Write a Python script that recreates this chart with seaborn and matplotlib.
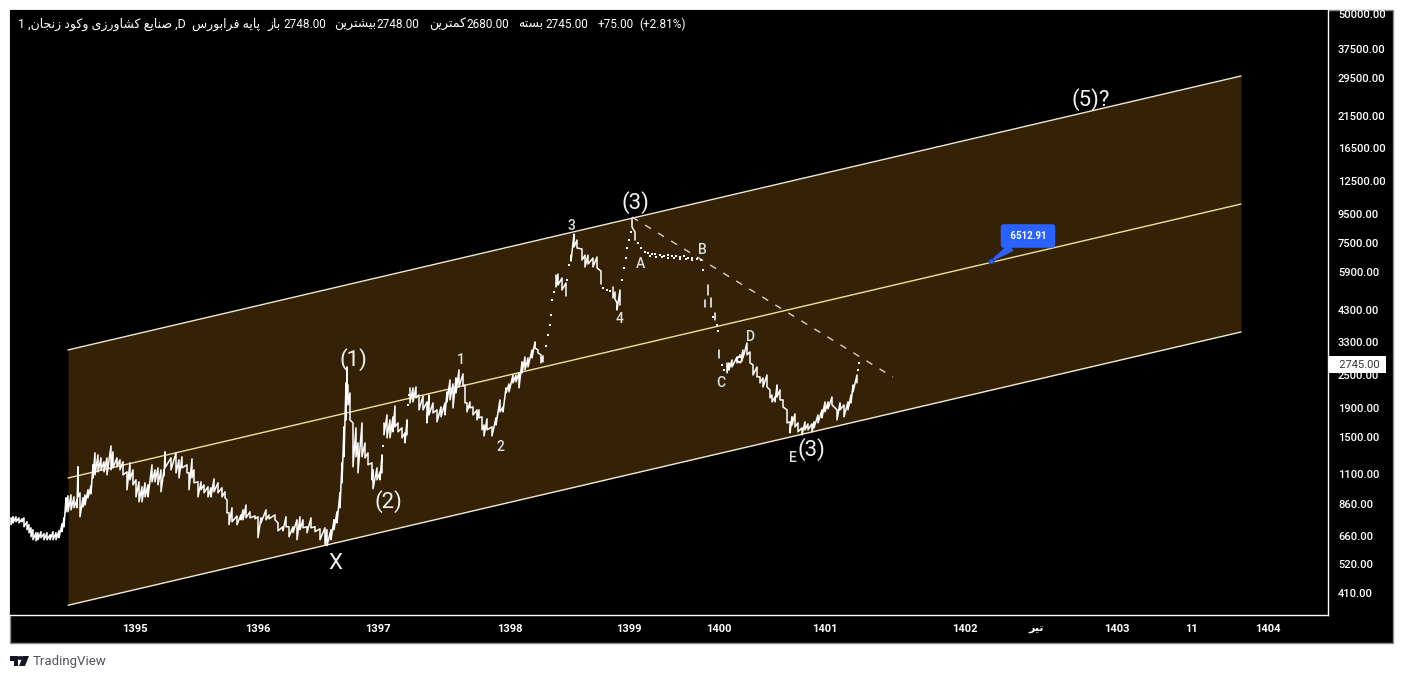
import pandas as pd
import matplotlib
matplotlib.use('Agg')
import matplotlib.pyplot as plt
from matplotlib.patches import Rectangle, Circle, Polygon
from matplotlib.transforms import ScaledTranslation
import seaborn as sns

# price data, x is the bar position on the time scale
bar_x = [11, 13, 16, 19, 22, 24, 27, 29, 31, 33, 36, 38, 41, 44, 47, 50, 53, 56, 59, 62, 64, 66, 68, 71, 74, 77, 78, 80, 83, 85,
         88, 91, 93, 95, 98, 101, 104, 107, 111, 113, 117, 120, 123, 127, 130, 133, 136, 139, 142, 145, 148, 152, 155, 158, 161, 164, 165, 171, 176, 179,
         182, 187, 189, 192, 194, 198, 201, 204, 208, 211, 214, 218, 222, 225, 227, 229, 232, 237, 241, 243, 246, 250, 255, 258, 261, 266, 269, 275, 278, 283,
         286, 289, 293, 297, 300, 303, 307, 311, 315, 320, 325, 327, 331, 334, 337, 340, 342, 344, 346, 347, 348, 350, 353, 356, 358, 362, 365, 368, 372, 373,
         377, 380, 382, 384, 387, 390, 393, 395, 398, 402, 405, 407, 410, 413, 416, 419, 423, 427, 429, 433, 437, 441, 445, 447, 450, 453, 456, 459, 463, 465,
         467, 470, 473, 477, 479, 482, 484, 487, 492, 496, 500, 503, 506, 509, 513, 516, 519, 522, 525, 528, 532, 535, 538, 541, 543, 556, 558, 562, 566, 571,
         574, 577, 582, 585, 588, 593, 597, 601, 613, 615, 617, 620, 632, 635, 705, 708, 711, 715, 719, 727, 729, 732, 737, 740, 743, 747, 750, 753, 757, 760,
         763, 767, 770, 772, 775, 777, 780, 783, 787, 790, 792, 795, 798, 802, 805, 808, 812, 814, 818, 822, 825, 828, 832, 837, 840, 844, 848, 851, 853, 857]
bar_high = [758, 765, 765, 758, 752, 758, 734, 716, 698, 687, 670, 670, 676, 665, 670, 659, 676, 670, 681, 721, 758, 895, 910, 917, 902, 880, 1158, 933, 895, 917,
            957, 989, 1177, 1300, 1278, 1247, 1207, 1247, 1377, 1311, 1247, 1227, 1207, 1110, 1197, 1129, 1039, 1022, 981, 1014, 997, 1177, 1129, 1148, 1129, 1129, 1311, 1247, 1300, 1227,
            1258, 1177, 1101, 1237, 1129, 1022, 1022, 997, 981, 973, 1047, 1014, 973, 941, 880, 790, 824, 770, 777, 810, 844, 797, 770, 765, 758, 810, 777, 777, 727, 704,
            765, 704, 704, 746, 765, 746, 704, 758, 704, 692, 698, 687, 687, 746, 797, 933, 1197, 1613, 2322, 2652, 2283, 2137, 1667, 1600, 1412, 1667, 1412, 1300, 1197, 1129,
            1148, 1110, 1278, 1667, 1781, 1709, 1753, 1918, 1667, 1600, 1534, 1709, 2228, 2228, 2246, 2100, 2083, 1984, 2100, 1967, 1857, 1903, 1967, 2155, 2381, 2303, 2421, 2587, 2502, 2283,
            1967, 1984, 1903, 1857, 1857, 1753, 1639, 1723, 1613, 1738, 2017, 1903, 2228, 2303, 2480, 2480, 2524, 2764, 2880, 2858, 3053, 3262, 3053, 2932, 2907, 5685, 5733, 5546, 5321, 6706,
            7984, 7600, 7053, 6706, 6706, 6546, 6601, 5877, 5150, 4938, 4507, 5021, 9047, 8119, 4621, 5231, 4700, 4149, 3053, 2741, 2741, 2810, 2880, 2932, 3053, 3235, 3003, 2698, 2652, 2442,
            2421, 2480, 2191, 2100, 2067, 2283, 2191, 2017, 1857, 1681, 1753, 1796, 1667, 1600, 1681, 1653, 1653, 1681, 1781, 1857, 1984, 1984, 2067, 1857, 1967, 1935, 1984, 2100, 2283, 2480]
bar_low = [716, 727, 734, 727, 734, 704, 687, 670, 648, 632, 627, 632, 643, 632, 632, 632, 632, 632, 643, 676, 704, 797, 797, 810, 824, 824, 902, 765, 830, 844,
           895, 925, 1056, 1083, 1110, 1129, 1110, 1083, 1129, 1148, 1158, 1129, 1083, 957, 1039, 997, 902, 866, 866, 902, 902, 1022, 1022, 997, 941, 1074, 1148, 1129, 1101, 1056,
           1148, 1101, 957, 1056, 1014, 902, 957, 933, 902, 902, 941, 933, 902, 895, 790, 716, 734, 716, 746, 746, 758, 758, 752, 643, 727, 746, 752, 746, 681, 681,
           704, 648, 670, 632, 687, 698, 670, 698, 676, 632, 607, 602, 632, 687, 727, 824, 1014, 1258, 1709, 2283, 1935, 1709, 1158, 1258, 1101, 1258, 1247, 1177, 1039, 965,
           1039, 1039, 1101, 1509, 1472, 1472, 1548, 1613, 1548, 1472, 1412, 1509, 1967, 1984, 2051, 1857, 1857, 1667, 1781, 1811, 1681, 1753, 1781, 1984, 2017, 1887, 2137, 2246, 2264, 1967,
           1826, 1887, 1781, 1709, 1738, 1573, 1496, 1573, 1496, 1639, 1826, 1826, 2137, 2155, 2322, 2342, 2228, 2524, 2587, 2652, 2858, 3103, 2978, 2741, 2764, 5150, 5231, 5021, 4778, 6386,
           7174, 7115, 6439, 6078, 6228, 6078, 6028, 5275, 4700, 4660, 4254, 4432, 8468, 7600, 4355, 4820, 4355, 3915, 2858, 2524, 2587, 2652, 2741, 2741, 2858, 2932, 2741, 2480, 2442, 2322,
           2246, 2246, 2051, 1984, 1984, 2067, 2017, 1903, 1667, 1534, 1639, 1613, 1548, 1509, 1573, 1573, 1548, 1600, 1667, 1738, 1826, 1873, 1935, 1709, 1857, 1753, 1857, 1967, 2155, 2322]
# the chart has holes here (limit days), the bars do not connect across them
break_before = [384, 410, 556, 571, 613, 632, 705, 708, 711, 715, 719, 727]

# days with open = close, only a dot shows
dot_x = [383, 408, 409, 546, 548, 550, 551, 552, 554, 567, 569, 603, 607, 610, 622, 624, 626, 627, 629, 631, 638, 641, 645,
         648, 652, 655, 660, 664, 668, 672, 676, 680, 684, 688, 692, 697, 701, 703,
         650, 656, 662, 668, 674, 680, 686, 692, 713, 717, 718, 722, 724, 858, 859]
dot_price = [1377, 1935, 2100, 3155, 3455, 3755, 4077, 4621, 4938, 5455, 6183, 5110, 5021, 4980, 5455, 6028, 6548, 7115, 7600, 8119, 7412, 7115, 6880,
             6824, 6768, 6768, 6712, 6657, 6712, 6657, 6657, 6602, 6657, 6548, 6548, 6494, 6439, 5926,
             6657, 6602, 6602, 6548, 6548, 6494, 6494, 6439, 4020, 3750, 3574, 2698, 2587, 2587, 2741]

# channel
channel_x = [68, 1241]
channel_upper = [3053, 29645]
channel_mid = [1055, 10245]
channel_lower = [367, 3544]
trend_x = [632, 893]
trend_price = [9197, 2437]

# wave counts
wave_x = [353, 388, 635, 811, 1091, 335]
wave_price = [2815, 867, 10340, 1335, 24330, 517]
wave_text = ['(1)', '(2)', '(3)', '(3)', '(5)?', 'X']
sub_x = [461, 500, 571, 620, 641, 702, 721, 751, 793]
sub_price = [2815, 1360, 8540, 3960, 6245, 7000, 2325, 3400, 1245]
sub_text = ['1', '2', '3', '4', 'A', 'B', 'C', 'D', 'E']

y_ticks = [50000, 37500, 29500, 21500, 16500, 12500, 9500, 7500, 5900, 4300, 3300, 2500, 1900, 1500, 1100, 860, 660, 520, 410]
x_ticks = [135, 258, 378, 510, 629, 719, 825, 965, 1036, 1117, 1192, 1268]
last_price = 2745
callout_x = 991
callout_price = 6386

# matplotlib has no arabic shaping, so pick the joined glyphs by hand and reverse
FORMS = {
    'ا': (0xFE8D, 0xFE8E), 'د': (0xFEA9, 0xFEAA), 'ر': (0xFEAD, 0xFEAE), 'ز': (0xFEAF, 0xFEB0), 'و': (0xFEED, 0xFEEE),
    'ب': (0xFE8F, 0xFE90, 0xFE91, 0xFE92), 'پ': (0xFB56, 0xFB57, 0xFB58, 0xFB59), 'ت': (0xFE95, 0xFE96, 0xFE97, 0xFE98),
    'ج': (0xFE9D, 0xFE9E, 0xFE9F, 0xFEA0), 'س': (0xFEB1, 0xFEB2, 0xFEB3, 0xFEB4), 'ش': (0xFEB5, 0xFEB6, 0xFEB7, 0xFEB8),
    'ص': (0xFEB9, 0xFEBA, 0xFEBB, 0xFEBC), 'ع': (0xFEC9, 0xFECA, 0xFECB, 0xFECC), 'ف': (0xFED1, 0xFED2, 0xFED3, 0xFED4),
    'ک': (0xFB8E, 0xFB8F, 0xFB90, 0xFB91), 'م': (0xFEE1, 0xFEE2, 0xFEE3, 0xFEE4), 'ن': (0xFEE5, 0xFEE6, 0xFEE7, 0xFEE8),
    'ه': (0xFEE9, 0xFEEA, 0xFEEB, 0xFEEC), 'ی': (0xFBFC, 0xFBFD, 0xFBFE, 0xFBFF),
}


def rtl(s):
    out = []
    for i, ch in enumerate(s):
        if ch not in FORMS:
            out.append(ch)
            continue
        prev = s[i - 1] if i > 0 else ' '
        nxt = s[i + 1] if i + 1 < len(s) else ' '
        joins_prev = prev in FORMS and len(FORMS[prev]) == 4
        joins_next = nxt in FORMS and len(FORMS[ch]) == 4
        if joins_prev and joins_next:
            out.append(chr(FORMS[ch][3]))
        elif joins_prev:
            out.append(chr(FORMS[ch][1]))
        elif joins_next:
            out.append(chr(FORMS[ch][2]))
        else:
            out.append(chr(FORMS[ch][0]))
    return ''.join(out[::-1])


x_labels = ['1395', '1396', '1397', '1398', '1399', '1400', '1401', '1402', rtl('تیر'), '1403', '11', '1404']
header_x = [18, 192, 268, 283, 334, 376, 429, 466, 518, 545, 598, 639]
header_text = ['1 ,' + rtl('صنایع کشاورزی وکود زنجان') + ' ,D', rtl('پایه فرابورس'), rtl('باز'), '2748.00', rtl('بیشترین'), '2748.00',
               rtl('کمترین'), '2680.00', rtl('بسته'), '2745.00', '+75.00', '(+2.81%)']

sns.set_theme(style='white')
plt.rcParams['font.family'] = ['Roboto', 'DejaVu Sans']

W, H = 1404, 679
fig = plt.figure(figsize=(W / 100, H / 100), dpi=100, facecolor='white')
ax = fig.add_axes([10 / W, 1 - 615 / H, 1318 / W, 605 / H], facecolor='black')

# black panel behind the plot and both scales
fig.add_artist(Rectangle((10 / W, 1 - 643 / H), 1383 / W, 633 / H, transform=fig.transFigure,
                         facecolor='black', edgecolor='#8c8c90', linewidth=1, zorder=-1))

ax.set_yscale('log')
ax.set_xlim(10, 1328)
ax.set_ylim(338.5, 51260)

# channel
ax.fill_between(channel_x, channel_lower, channel_upper, color='#352105', linewidth=0, zorder=1)
channel = pd.DataFrame({
    'x': channel_x * 3,
    'price': channel_upper + channel_mid + channel_lower,
    'line': ['upper'] * 2 + ['mid'] * 2 + ['lower'] * 2,
})
sns.lineplot(data=channel, x='x', y='price', hue='line', estimator=None, legend=False, linewidth=1.0, ax=ax, zorder=2,
             palette={'upper': '#f0ead6', 'mid': '#efe09a', 'lower': '#f0ead6'})
sns.lineplot(x=trend_x, y=trend_price, color='#d8d2c4', linewidth=1, linestyle=(0, (5, 6)), ax=ax, zorder=2)

# price as one zigzag line per segment
rows = []
seg = 0
for x, hi, lo in zip(bar_x, bar_high, bar_low):
    if x in break_before:
        seg += 1
    rows.append((x, hi, seg))
    rows.append((x, lo, seg))
bars = pd.DataFrame(rows, columns=['x', 'price', 'seg'])
sns.lineplot(data=bars, x='x', y='price', units='seg', estimator=None, sort=False, color='white',
             linewidth=1.1, ax=ax, zorder=3)
sns.scatterplot(x=dot_x, y=dot_price, color='white', s=1.6, marker='s', linewidth=0, ax=ax, zorder=3)
# small ring next to D
sns.scatterplot(x=[739], y=[2834], color='white', s=26, linewidth=0, ax=ax, zorder=3)
sns.scatterplot(x=[739], y=[2834], color='#352105', s=5, linewidth=0, ax=ax, zorder=3)

# wave labels
for x, p, t in zip(wave_x, wave_price, wave_text):
    ax.text(x, p, t, color='#f2f2f2', fontsize=16, ha='center', va='center', zorder=4)
for x, p, t in zip(sub_x, sub_price, sub_text):
    ax.text(x, p, t, color='#dddddd', fontsize=10, ha='center', va='center', fontweight='medium', zorder=4)

# blue price callout
ax.annotate('\u00a06512.91\u00a0', xy=(callout_x, callout_price), xytext=(37, 25), textcoords='offset pixels',
            color='white', fontsize=7, fontweight='bold', ha='center', va='center', zorder=5,
            bbox=dict(boxstyle='round,pad=0.7,rounding_size=0.3', facecolor='#2962ff', edgecolor='none'),
            arrowprops=dict(arrowstyle='wedge,tail_width=0.7,shrink_factor=0.5', facecolor='#2962ff', edgecolor='#2962ff',
                            shrinkA=0, shrinkB=0))
sns.scatterplot(x=[callout_x], y=[callout_price], color='#2962ff', edgecolor='#0d2f99', s=14, linewidth=0.6, ax=ax, zorder=6)

# scales
ax.minorticks_off()
ax.yaxis.tick_right()
ax.set_yticks(y_ticks)
ax.set_yticklabels([f'{v:.2f}' for v in y_ticks], color='white', fontsize=8, fontweight='medium')
ax.set_xticks(x_ticks)
ax.set_xticklabels(x_labels, color='white', fontsize=8, fontweight='bold')
ax.tick_params(axis='y', which='both', length=0, pad=7.2)
ax.tick_params(axis='x', which='both', length=0, pad=6.6)
# labels sit one pixel low on the scale
down = ScaledTranslation(0, -1 / 100, fig.dpi_scale_trans)
for label in ax.get_yticklabels():
    label.set_transform(label.get_transform() + down)
ax.set_xlabel('')
ax.set_ylabel('')
for name in ['left', 'top']:
    ax.spines[name].set_visible(False)
for name in ['right', 'bottom']:
    ax.spines[name].set_color('white')
    ax.spines[name].set_linewidth(1)

# last price tag on the scale
ax.annotate('\u00a0\u00a0\u00a02745.00\u00a0', xy=(1, last_price), xycoords=('axes fraction', 'data'), xytext=(3, -2),
            textcoords='offset pixels', color='#333333', fontsize=8, ha='left', va='center', annotation_clip=False, zorder=7,
            bbox=dict(boxstyle='square,pad=0.3', facecolor='white', edgecolor='none'))

# legend line on top
for i, (x, t) in enumerate(zip(header_x, header_text)):
    size = 9 if t[0] not in '0123456789+(' or i == 0 else 8.5
    fig.text(x / W, 1 - 24.5 / H, t, color='white', fontsize=size, ha='left', va='center')

# logo
logo = [Rectangle((10 / W, 1 - 661 / H), 8 / W, 5 / H), Rectangle((14 / W, 1 - 666 / H), 4 / W, 6 / H),
        Circle((20.5 / W, 1 - 658 / H), 1.9 / H), Polygon([(23 / W, 1 - 656 / H), (29 / W, 1 - 656 / H), (25 / W, 1 - 666 / H), (19 / W, 1 - 666 / H)])]
for patch in logo:
    patch.set_transform(fig.transFigure)
    patch.set_facecolor('#131722')
    patch.set_edgecolor('none')
    fig.add_artist(patch)
fig.text(33 / W, 1 - 661 / H, 'TradingView', color='#50535e', fontsize=9.5, ha='left', va='center')

fig.savefig('out.png', dpi=100, facecolor='white')
